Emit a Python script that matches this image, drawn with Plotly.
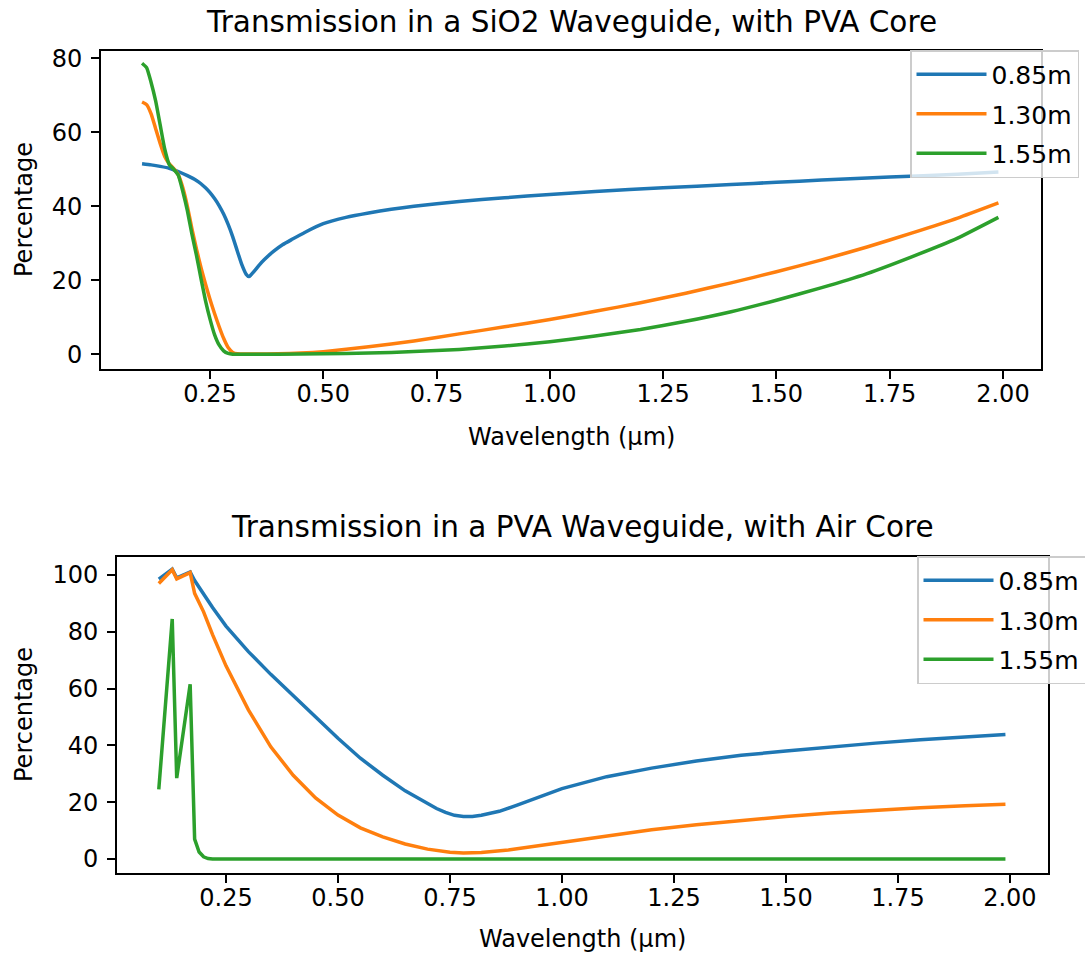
import plotly.graph_objects as go

# ---------------- data: top panel (SiO2 waveguide, PVA core) ----------------
top_blue_x = [0.10, 0.12, 0.14, 0.16, 0.18, 0.20, 0.22, 0.23, 0.24, 0.25, 0.26, 0.27, 0.28, 0.29,
              0.30, 0.31, 0.32, 0.33, 0.336, 0.34, 0.35, 0.36, 0.37, 0.39, 0.41, 0.43, 0.46, 0.50,
              0.55, 0.60, 0.65, 0.70, 0.80, 0.90, 1.00, 1.10, 1.25, 1.40, 1.50, 1.60, 1.75, 1.90,
              1.99]
top_blue_y = [51.5, 51.2, 50.8, 50.3, 49.4, 48.3, 47.0, 46.1, 45.0, 43.7, 42.1, 40.2, 37.9, 35.1,
              31.8, 28.0, 24.3, 21.6, 21.0, 21.4, 22.8, 24.3, 25.6, 27.8, 29.6, 31.0, 33.0, 35.3,
              37.0, 38.2, 39.2, 40.0, 41.3, 42.3, 43.2, 44.0, 45.0, 45.9, 46.5, 47.1, 47.9, 48.7,
              49.3]

top_orange_x = [0.10, 0.11, 0.12, 0.13, 0.14, 0.15, 0.16, 0.17, 0.18, 0.19, 0.20, 0.21, 0.22, 0.23,
                0.24, 0.25, 0.26, 0.27, 0.28, 0.29, 0.30, 0.31, 0.35, 0.40, 0.45, 0.50, 0.60, 0.70,
                0.80, 0.90, 1.00, 1.10, 1.20, 1.30, 1.40, 1.50, 1.60, 1.70, 1.80, 1.90, 1.99]
top_orange_y = [68.2, 67.5, 65.0, 61.0, 57.0, 53.5, 51.5, 50.2, 48.5, 45.0, 40.0, 34.0, 28.5, 23.5,
                19.0, 14.8, 11.0, 7.5, 4.3, 1.8, 0.5, 0.1, 0.05, 0.1, 0.3, 0.7, 2.0, 3.6,
                5.5, 7.4, 9.4, 11.6, 13.9, 16.5, 19.3, 22.3, 25.5, 29.0, 32.8, 36.8, 40.9]

top_green_x = [0.10, 0.11, 0.12, 0.13, 0.14, 0.15, 0.16, 0.17, 0.18, 0.19, 0.20, 0.21, 0.22, 0.23,
               0.24, 0.25, 0.26, 0.27, 0.28, 0.29, 0.30, 0.40, 0.50, 0.60, 0.70, 0.80, 0.90, 1.00,
               1.10, 1.20, 1.30, 1.40, 1.50, 1.60, 1.70, 1.80, 1.90, 1.99]
top_green_y = [78.7, 77.5, 73.5, 68.5, 62.0, 55.5, 51.3, 50.0, 48.4, 44.0, 38.8, 32.5, 26.8, 20.5,
               14.5, 9.5, 5.3, 2.5, 0.9, 0.2, 0.0, 0.0, 0.1, 0.3, 0.7, 1.3, 2.2, 3.4,
               4.9, 6.7, 8.9, 11.5, 14.6, 18.0, 21.8, 26.4, 31.4, 37.0]

# ---------------- data: bottom panel (PVA waveguide, air core) ----------------
bot_blue_x = [0.10, 0.13, 0.14, 0.17, 0.18, 0.20, 0.22, 0.25, 0.30, 0.35, 0.40, 0.45, 0.50, 0.55,
              0.60, 0.65, 0.70, 0.72, 0.74, 0.76, 0.78, 0.80, 0.82, 0.84, 0.86, 0.90, 0.95, 1.00,
              1.10, 1.20, 1.30, 1.40, 1.50, 1.60, 1.70, 1.80, 1.90, 1.99]
bot_blue_y = [98.5, 102.0, 99.0, 101.0, 98.0, 93.0, 88.5, 82.0, 73.0, 65.0, 57.5, 50.0, 42.5, 35.5,
              29.5, 24.0, 19.5, 17.8, 16.4, 15.4, 15.0, 15.0, 15.4, 16.0, 16.8, 19.0, 22.0, 24.8,
              29.0, 32.0, 34.5, 36.5, 38.0, 39.5, 40.8, 42.0, 43.0, 43.8]

bot_orange_x = [0.10, 0.13, 0.14, 0.17, 0.18, 0.20, 0.22, 0.25, 0.30, 0.35, 0.40, 0.45, 0.50, 0.55,
                0.60, 0.65, 0.70, 0.75, 0.78, 0.82, 0.88, 0.95, 1.00, 1.10, 1.20, 1.30, 1.40, 1.50,
                1.60, 1.70, 1.80, 1.90, 1.99]
bot_orange_y = [97.0, 101.8, 98.6, 100.8, 93.5, 87.0, 79.0, 68.0, 52.5, 39.5, 29.5, 21.5, 15.5, 11.0,
                7.8, 5.3, 3.5, 2.4, 2.1, 2.3, 3.2, 4.8, 6.0, 8.3, 10.3, 12.1, 13.7, 15.0,
                16.2, 17.2, 18.1, 18.8, 19.3]

bot_green_x = [0.10, 0.13, 0.14, 0.17, 0.18, 0.19, 0.20, 0.21, 0.22, 0.30, 0.50, 1.00, 1.50, 1.99]
bot_green_y = [24.5, 84.5, 28.5, 61.5, 7.0, 2.5, 0.8, 0.2, 0.0, 0.0, 0.0, 0.0, 0.0, 0.0]

series_names = ["0.85m", "1.30m", "1.55m"]
colors = ["#1f77b4", "#ff7f0e", "#2ca02c"]

titles = ["Transmission in a SiO2 Waveguide, with PVA Core",
          "Transmission in a PVA Waveguide, with Air Core"]
x_label = "Wavelength (µm)"
y_label = "Percentage"

FONT = "DejaVu Sans"
LW = 3.5

fig = go.Figure()

top = [(top_blue_x, top_blue_y), (top_orange_x, top_orange_y), (top_green_x, top_green_y)]
bot = [(bot_blue_x, bot_blue_y), (bot_orange_x, bot_orange_y), (bot_green_x, bot_green_y)]

for i, ((xs, ys), name, c) in enumerate(zip(top, series_names, colors)):
    fig.add_trace(go.Scatter(x=xs, y=ys, mode="lines", name=name,
                             line=dict(color=c, width=LW, shape="spline", smoothing=0.5),
                             xaxis="x", yaxis="y", legend="legend", legendgroup=f"t{i}"))
for i, ((xs, ys), name, c) in enumerate(zip(bot, series_names, colors)):
    fig.add_trace(go.Scatter(x=xs, y=ys, mode="lines", name=name,
                             line=dict(color=c, width=LW), xaxis="x2", yaxis="y2",
                             legend="legend2", legendgroup=f"b{i}"))

W, H = 1085, 955

def ax_common():
    return dict(showline=True, linecolor="black", linewidth=2, mirror=True,
                ticks="outside", ticklen=8, tickwidth=2, tickcolor="black",
                showgrid=False, zeroline=False,
                tickfont=dict(family=FONT, size=24, color="black"))

xa = ax_common(); xa.update(domain=[101 / W, 1041 / W], range=[0.0094, 2.084],
                            tick0=0, dtick=0.25, tickformat=".2f", anchor="y",
                            ticklabelstandoff=-6)
ya = ax_common(); ya.update(domain=[(H - 369) / H, (H - 51) / H], range=[-4.0, 82.0],
                            tick0=0, dtick=20, anchor="x", ticklabelstandoff=4)
xb = ax_common(); xb.update(domain=[117 / W, 1048 / W], range=[0.0067, 2.085],
                            tick0=0, dtick=0.25, tickformat=".2f", anchor="y2",
                            ticklabelstandoff=-6)
yb = ax_common(); yb.update(domain=[(H - 873) / H, (H - 557) / H], range=[-4.9, 106.3],
                            tick0=0, dtick=20, anchor="x2", ticklabelstandoff=4)

legend_style = dict(bgcolor="rgba(255,255,255,0.8)", bordercolor="#cccccc", borderwidth=1.5,
                    font=dict(family=FONT, size=25, color="black"),
                    itemwidth=70, tracegroupgap=4,
                    xanchor="left", yanchor="top", xref="paper", yref="paper")

fig.update_layout(
    width=W, height=H,
    margin=dict(l=0, r=0, t=0, b=0, autoexpand=False),
    paper_bgcolor="white", plot_bgcolor="white",
    font=dict(family=FONT, color="black"),
    xaxis=xa, yaxis=ya, xaxis2=xb, yaxis2=yb,
    legend=dict(x=910 / W, y=(H - 50) / H, **legend_style),
    legend2=dict(x=917 / W, y=(H - 556) / H, **legend_style),
    showlegend=True,
)

annots = [
    dict(text=titles[0], x=571 / W, y=(H - 22) / H, font=dict(size=29.5)),
    dict(text=titles[1], x=582 / W, y=(H - 527) / H, font=dict(size=29.5)),
    dict(text=x_label, x=571 / W, y=(H - 437) / H, font=dict(size=24)),
    dict(text=x_label, x=582 / W, y=(H - 939) / H, font=dict(size=24)),
    dict(text=y_label, x=24 / W, y=(H - 210) / H, font=dict(size=24), textangle=-90),
    dict(text=y_label, x=24 / W, y=(H - 715) / H, font=dict(size=24), textangle=-90),
]
for a in annots:
    f = dict(family=FONT, color="black"); f.update(a.pop("font"))
    fig.add_annotation(xref="paper", yref="paper", showarrow=False,
                       xanchor="center", yanchor="middle", font=f, **a)

fig.write_html("out.html")
